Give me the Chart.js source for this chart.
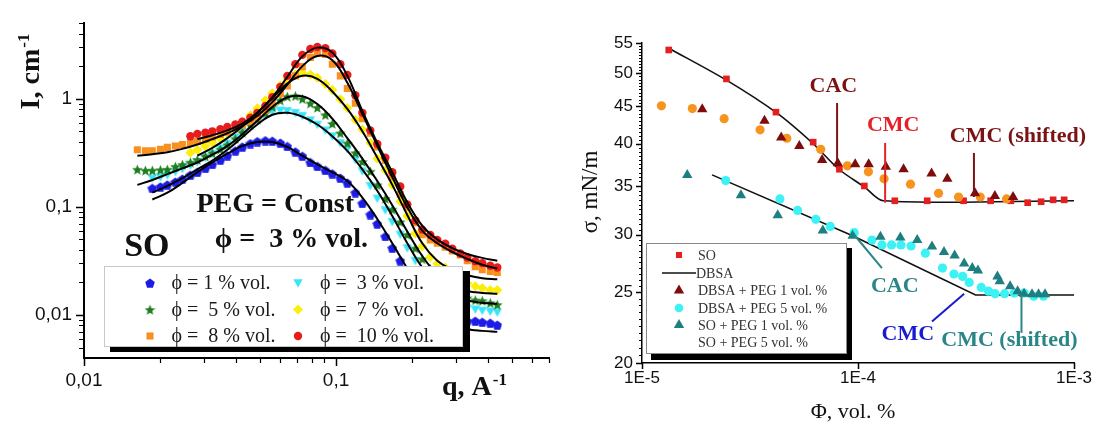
<!DOCTYPE html>
<html>
<head>
<meta charset="utf-8">
<script src="https://cdn.jsdelivr.net/npm/chart.js@4.4.0/dist/chart.umd.min.js"></script>
<style>
  html, body { margin: 0; padding: 0; background: #fff; }
  #wrap { position: relative; width: 1097px; height: 424px; overflow: hidden; }
  #left { position: absolute; left: 0; top: 0; width: 560px; height: 424px; }
  #right { position: absolute; left: 580px; top: 0; width: 517px; height: 424px; }
</style>
</head>
<body>
<div id="wrap">
  <div id="left"><canvas id="saxs"></canvas></div>
  <div id="right"><canvas id="tension"></canvas></div>
</div>
<script>
'use strict';

// ---------- left panel: SAXS, SO + PEG (const) ----------
const q = [0.01628, 0.01752, 0.01867, 0.02010, 0.02142, 0.02305, 0.02457, 0.02643, 0.02818, 0.03031,
  0.03231, 0.03476, 0.03705, 0.03986, 0.04249, 0.04572, 0.04874, 0.05243, 0.05589, 0.06013,
  0.0641, 0.06897, 0.07351, 0.07909, 0.08431, 0.0907, 0.09667, 0.104, 0.1109, 0.1193,
  0.1272, 0.1368, 0.1458, 0.1569, 0.1672, 0.1799, 0.1918, 0.2064, 0.2199, 0.2366,
  0.2522, 0.2713, 0.2893, 0.3112, 0.3318, 0.3569, 0.3805, 0.4094, 0.4364];

const I1 = [null, null, 0.1489, 0.1536, 0.1602, 0.1704, 0.1814, 0.1971, 0.2097, 0.2279,
  0.2476, 0.2718, 0.2984, 0.3310, 0.3595, 0.3867, 0.4031, 0.4116, 0.4073, 0.3906,
  0.3633, 0.3242, 0.2953, 0.2581, 0.2375, 0.2186, 0.2032, 0.1852, 0.1669, 0.1356,
  0.1080, 0.0851, 0.0698, 0.0533, 0.0416, 0.0318, 0.0258, 0.0201, 0.0160, 0.0130,
  0.0110, 0.00994, 0.00934, 0.00896, 0.00877, 0.00877, 0.00859, 0.00842, 0.00808];
const I3 = [null, null, 0.1840, 0.1890, 0.1971, 0.2119, 0.2254, 0.2425, 0.2608, 0.2862,
  0.3110, 0.3486, 0.3867, 0.4425, 0.4960, 0.5735, 0.6428, 0.7057, 0.7588, 0.7828,
  0.7748, 0.7433, 0.6984, 0.6362, 0.5794, 0.5117, 0.4519, 0.3906, 0.3451, 0.2746,
  0.2141, 0.1569, 0.1198, 0.0934, 0.0728, 0.0556, 0.0416, 0.0318, 0.0247, 0.0193,
  0.0157, 0.0138, 0.0127, 0.0120, 0.0115, 0.0113, 0.0110, 0.0108, 0.0106];
const I5 = [0.2232, 0.2186, 0.2186, 0.2209, 0.2232, 0.2375, 0.2476, 0.2597, 0.2746, 0.2953,
  0.3155, 0.3429, 0.3763, 0.4289, 0.4909, 0.5758, 0.6496, 0.7433, 0.8506, 0.9734,
  1.057, 1.069, 1.004, 0.9147, 0.8331, 0.7130, 0.5916, 0.4838, 0.3906, 0.3176,
  0.2634, 0.2141, 0.1602, 0.1198, 0.0953, 0.0728, 0.0556, 0.0416, 0.0331, 0.0269,
  0.0219, 0.0185, 0.0167, 0.0154, 0.0144, 0.0138, 0.0136, 0.0130, 0.0125];
const I7 = [null, null, null, null, null, null, null, 0.3176, 0.3380, 0.3672,
  0.3948, 0.4306, 0.4759, 0.5391, 0.6103, 0.7057, 0.8193, 0.9734, 1.126, 1.329,
  1.536, 1.687, 1.740, 1.687, 1.569, 1.371, 1.210, 0.9938, 0.8245, 0.6428,
  0.5224, 0.3906, 0.2803, 0.2186, 0.1602, 0.1125, 0.0825, 0.0568, 0.0433, 0.0345,
  0.0298, 0.0275, 0.0247, 0.0219, 0.0197, 0.0185, 0.0178, 0.0170, 0.0170];
const I8 = [0.3380, 0.3310, 0.3310, 0.3415, 0.3558, 0.3672, 0.3788, 0.3932, 0.4031, 0.4245,
  0.4425, 0.4682, 0.4909, 0.5280, 0.5676, 0.6167, 0.6770, 0.7829, 0.9147, 1.109,
  1.315, 1.635, 1.991, 2.425, 2.662, 2.581, 2.097, 1.635, 1.249, 0.9147,
  0.6563, 0.4808, 0.3595, 0.2690, 0.1890, 0.1302, 0.0994, 0.0713, 0.0555, 0.0494,
  0.0461, 0.0424, 0.0391, 0.0360, 0.0318, 0.0280, 0.0263, 0.0253, 0.0247];
const I10 = [null, null, null, null, null, null, null, 0.4519, 0.4750, 0.4859,
  0.5012, 0.5246, 0.5502, 0.5794, 0.6167, 0.6700, 0.7433, 0.8595, 1.036, 1.288,
  1.635, 2.097, 2.555, 2.893, 3.027, 2.953, 2.634, 2.097, 1.669, 1.080,
  0.7433, 0.5117, 0.3827, 0.2862, 0.2097, 0.1546, 0.1057, 0.0751, 0.0617, 0.0550,
  0.0496, 0.0457, 0.0411, 0.0371, 0.0341, 0.0315, 0.0302, 0.0286, 0.0275];

// model fits (black curves)
const qFit = [0.01628, 0.01867, 0.02142, 0.02457, 0.02818, 0.03231, 0.03705, 0.04249, 0.04874, 0.05589,
  0.0641, 0.07351, 0.08431, 0.09667, 0.1109, 0.1272, 0.1458, 0.1672, 0.1918, 0.2199,
  0.2522, 0.2893, 0.3318, 0.3805, 0.4364];
const fit1 = [null, 0.1173, 0.1356, 0.1669, 0.2097, 0.2581, 0.3110, 0.3672, 0.3990, 0.3990,
  0.3595, 0.2984, 0.2476, 0.2097, 0.1739, 0.1223, 0.0775, 0.0461, 0.0269, 0.0164,
  0.0108, 0.00842, 0.00743, 0.00713, 0.00698];
const fit3 = [null, 0.1356, 0.1569, 0.1852, 0.2232, 0.2690, 0.3380, 0.4425, 0.5794, 0.7130,
  0.7433, 0.6841, 0.5794, 0.4519, 0.3310, 0.2232, 0.1414, 0.0825, 0.0461, 0.0275,
  0.0189, 0.0150, 0.0136, 0.0130, 0.0127];
const fit5 = [0.1602, 0.1777, 0.2012, 0.2279, 0.2581, 0.3046, 0.3672, 0.4710, 0.6295, 0.8419,
  1.036, 1.057, 0.8960, 0.6563, 0.4334, 0.2803, 0.1739, 0.1036, 0.0592, 0.0352,
  0.0237, 0.0189, 0.0167, 0.0160, 0.0157];
const fit7 = [null, null, null, null, 0.2984, 0.3522, 0.4334, 0.5559, 0.7433, 1.015,
  1.385, 1.635, 1.536, 1.173, 0.8077, 0.5012, 0.2862, 0.1602, 0.0842, 0.0461,
  0.0318, 0.0263, 0.0233, 0.0219, 0.0214];
const fit8 = [0.2984, 0.3078, 0.3209, 0.3451, 0.3788, 0.4245, 0.4808, 0.5617, 0.6984, 0.9339,
  1.356, 2.012, 2.501, 2.279, 1.414, 0.7280, 0.3672, 0.1890, 0.0994, 0.0604,
  0.0461, 0.0383, 0.0331, 0.0292, 0.0269];
const fit10 = [null, null, null, null, 0.4245, 0.4613, 0.5117, 0.5916, 0.7433, 1.036,
  1.602, 2.475, 2.984, 2.690, 1.635, 0.7748, 0.3906, 0.2097, 0.1103, 0.0670,
  0.0501, 0.0416, 0.0367, 0.0338, 0.0318];

const saxsLabels = ['ϕ = 1 % vol.', 'ϕ =  3 % vol.', 'ϕ =  5 % vol.', 'ϕ =  7 % vol.', 'ϕ =  8 % vol.', 'ϕ =  10 % vol.'];
const qTicks = [0.01, 0.1];
const qMinor = [0.02, 0.03, 0.04, 0.05, 0.06, 0.07, 0.08, 0.09, 0.2, 0.3, 0.4, 0.5, 0.6, 0.7];
const iTicks = [0.01, 0.1, 1];
const iMinor = [0.005, 0.006, 0.007, 0.008, 0.009, 0.02, 0.03, 0.04, 0.05, 0.06, 0.07, 0.08, 0.09,
  0.2, 0.3, 0.4, 0.5, 0.6, 0.7, 0.8, 0.9, 2, 3, 4, 5];

// ---------- right panel: surface tension ----------
const phiSO = [1.33e-5, 2.46e-5, 4.17e-5, 6.2e-5, 8.2e-5, 1.07e-4, 1.48e-4, 2.09e-4, 3.08e-4, 4.11e-4, 5.1e-4, 6.1e-4, 7.04e-4, 8.0e-4, 9.0e-4];
const sigSO = [53.8, 49.1, 44.2, 40.2, 36.9, 35.0, 33.4, 33.4, 33.4, 33.4, 33.4, 33.2, 33.3, 33.5, 33.5];
const phiDbsaA = [1.33e-5, 2.46e-5, 4.22e-5, 6.2e-5, 8.15e-5, 1.07e-4, 1.31e-4, 1e-3];
const sigDbsaA = [54.1, 48.9, 44.05, 40.0, 36.9, 34.9, 33.4, 33.4];
const phiDbsaB = [2.11e-5, 9.44e-5, 3.5e-4, 1e-3];
const sigDbsaB = [36.25, 29.9, 24.8, 24.8];
const phiD1 = [1.90e-5, 3.69e-5, 4.41e-5, 5.35e-5, 6.82e-5, 8.06e-5, 9.7e-5, 1.12e-4, 1.345e-4, 1.625e-4, 2.19e-4, 2.59e-4, 3.48e-4, 4.30e-4, 5.22e-4];
const sigD1 = [44.6, 43.0, 40.8, 39.7, 38.0, 37.6, 37.5, 37.5, 37.2, 36.9, 36.4, 35.8, 34.2, 33.9, 33.8];
const phiD5 = [2.44e-5, 4.35e-5, 5.25e-5, 6.38e-5, 7.44e-5, 9.6e-5, 1.16e-4, 1.29e-4, 1.43e-4, 1.58e-4, 1.76e-4, 2.05e-4,
  2.46e-4, 2.78e-4, 3.05e-4, 3.27e-4, 3.72e-4, 4.02e-4, 4.31e-4, 4.77e-4, 5.29e-4, 5.87e-4, 6.51e-4, 7.22e-4];
const sigD5 = [35.6, 33.6, 32.4, 31.5, 30.8, 30.2, 29.5, 29.05, 29.05, 29.05, 28.95, 28.3,
  27.0, 26.5, 26.3, 25.8, 25.4, 25.1, 24.9, 24.9, 24.95, 24.95, 24.7, 24.7];
const phiS1 = [1.62e-5, 2.87e-5, 4.25e-5, 6.87e-5, 9.44e-5, 1.27e-4, 1.57e-4, 1.88e-4, 2.20e-4, 2.50e-4, 2.80e-4,
  3.10e-4, 3.38e-4, 3.59e-4, 4.42e-4, 4.53e-4, 5.06e-4, 5.48e-4, 5.87e-4, 6.39e-4, 6.85e-4, 7.34e-4];
const sigS1 = [36.25, 34.0, 31.9, 30.4, 29.9, 29.8, 29.75, 29.5, 28.9, 28.4, 28.1,
  27.4, 27.0, 26.8, 26.3, 25.9, 25.5, 25.1, 24.9, 24.85, 24.85, 24.85];
const phiS5 = [1.23e-5, 1.71e-5, 2.40e-5, 3.52e-5, 4.68e-5, 6.72e-5, 8.93e-5, 1.117e-4, 1.32e-4, 1.75e-4, 2.36e-4, 2.92e-4, 3.68e-4, 4.87e-4];
const sigS5 = [45.1, 44.7, 43.3, 41.8, 40.7, 39.3, 37.3, 36.6, 35.8, 35.2, 34.2, 33.8, 33.8, 33.6];

const tensionLabels = ['SO', 'DBSA', 'DBSA + PEG 1 vol. %', 'DBSA + PEG 5 vol. %', 'SO + PEG 1 vol. %', 'SO + PEG 5 vol. %'];
const phiTicks = [1e-5, 1e-4, 1e-3];
const sigTicks = [20, 25, 30, 35, 40, 45, 50, 55];

// annotations: [text, colour, phi, sigma] and arrow lines [colour, phi1, sig1, phi2, sig2]
const notes = [
  ['CAC', '#7a1414', 7.69e-5, 48.0],
  ['CMC', '#e4222a', 1.455e-4, 42.4],
  ['CMC (shifted)', '#7a1414', 5.5e-4, 40.9],
  ['CAC', '#2a8686', 1.48e-4, 25.5],
  ['CMC', '#1a1ad0', 1.70e-4, 21.9],
  ['CMC (shifted)', '#2a8686', 5.02e-4, 21.5]
];
const arrows = [
  ['#7a1414', 8.0e-5, 45.5, 8.0e-5, 38.0],
  ['#e4222a', 1.335e-4, 40.1, 1.335e-4, 33.2],
  ['#7a1414', 3.44e-4, 38.85, 3.44e-4, 33.8],
  ['#2a8686', 1.29e-4, 27.0, 9.6e-5, 30.0],
  ['#1a1ad0', 2.2e-4, 22.8, 3.1e-4, 24.9],
  ['#2a8686', 5.71e-4, 24.8, 5.71e-4, 22.0]
];

// ---------- helpers ----------
const SERIF = '"Liberation Serif", "Times New Roman", serif';
const SANS = '"Liberation Sans", Arial, sans-serif';
Chart.defaults.font.family = SANS;

function pts(xs, ys) {
  const out = [];
  xs.forEach((x, i) => { if (ys[i] !== null) out.push({ x: x, y: ys[i] }); });
  return out;
}

function shape(kind, color, size) {
  const c = document.createElement('canvas');
  c.width = size; c.height = size;
  const g = c.getContext('2d');
  const m = size / 2, r = size / 2;
  g.fillStyle = color;
  g.beginPath();
  if (kind === 'pentagon') {
    for (let i = 0; i < 5; i++) {
      const a = -Math.PI / 2 + i * 2 * Math.PI / 5;
      g.lineTo(m + r * Math.cos(a), m + 0.6 + r * Math.sin(a));
    }
  } else if (kind === 'star') {
    for (let i = 0; i < 10; i++) {
      const a = -Math.PI / 2 + i * Math.PI / 5;
      const rr = i % 2 ? r * 0.45 : r;
      g.lineTo(m + rr * Math.cos(a), m + 0.8 + rr * Math.sin(a));
    }
  } else {
    g.moveTo(0.3, size * 0.12);
    g.lineTo(size - 0.3, size * 0.12);
    g.lineTo(m, size * 0.95);
  }
  g.closePath();
  g.fill();
  return c;
}

function drawMarker(ctx, style, r, color, x, y) {
  ctx.save();
  ctx.fillStyle = color;
  if (style instanceof HTMLCanvasElement) {
    ctx.drawImage(style, x - style.width / 2, y - style.height / 2);
  } else {
    ctx.beginPath();
    if (style === 'circle') ctx.arc(x, y, r, 0, Math.PI * 2);
    else if (style === 'rect') { const h = r * Math.SQRT1_2; ctx.rect(x - h, y - h, 2 * h, 2 * h); }
    else if (style === 'rectRot') { ctx.moveTo(x, y - r); ctx.lineTo(x + r, y); ctx.lineTo(x, y + r); ctx.lineTo(x - r, y); }
    else if (style === 'triangle') { ctx.moveTo(x, y - r); ctx.lineTo(x + r * 0.866, y + r / 2); ctx.lineTo(x - r * 0.866, y + r / 2); }
    ctx.closePath();
    ctx.fill();
  }
  ctx.restore();
}

function tickMarks(ctx, scale, area, values, len, width) {
  ctx.save();
  ctx.strokeStyle = '#000';
  ctx.lineWidth = width;
  ctx.beginPath();
  values.forEach(v => {
    const p = Math.round(scale.getPixelForValue(v)) + 0.5;
    if (scale.isHorizontal()) { ctx.moveTo(p, area.bottom); ctx.lineTo(p, area.bottom + len); }
    else { ctx.moveTo(area.left, p); ctx.lineTo(area.left - len, p); }
  });
  ctx.stroke();
  ctx.restore();
}

function supText(ctx, main, sup, x, y, size) {
  ctx.font = 'bold ' + size + 'px ' + SERIF;
  ctx.fillText(main, x, y);
  const w = ctx.measureText(main).width;
  ctx.font = 'bold ' + Math.round(size * 0.6) + 'px ' + SERIF;
  ctx.fillText(sup, x + w + 1, y - size * 0.36);
  return w + ctx.measureText(sup).width + 1;
}

// ---------- left chart ----------
const cBlue = '#1c1ce6', cCyan = '#38e4fa', cGreen = '#1f7f1f', cYellow = '#fbee0a', cOrange = '#f7901e', cRed = '#e81c1c';
const mk = [
  { data: I1, label: saxsLabels[0], color: cBlue, style: shape('pentagon', cBlue, 10), r: 5, order: 6 },
  { data: I3, label: saxsLabels[1], color: cCyan, style: shape('tri', cCyan, 10), r: 5, order: 5 },
  { data: I5, label: saxsLabels[2], color: cGreen, style: shape('star', cGreen, 11), r: 5, order: 4 },
  { data: I7, label: saxsLabels[3], color: cYellow, style: 'rectRot', r: 5, order: 3 },
  { data: I8, label: saxsLabels[4], color: cOrange, style: 'rect', r: 5, order: 2 },
  { data: I10, label: saxsLabels[5], color: cRed, style: 'circle', r: 4.2, order: 1 }
];
const fits = [fit1, fit3, fit5, fit7, fit8, fit10];

const saxsSets = [];
fits.forEach(f => saxsSets.push({
  data: pts(qFit, f), showLine: true, pointRadius: 0, borderColor: '#000', borderWidth: 2,
  tension: 0.4, order: 0
}));
mk.forEach(m => saxsSets.push({
  label: m.label, data: pts(q, m.data), showLine: false, pointStyle: m.style, pointRadius: m.r,
  pointBackgroundColor: m.color, pointBorderWidth: 0, order: m.order
}));

const saxsDecor = {
  id: 'saxsDecor',
  afterDraw(chart) {
    const ctx = chart.ctx, xs = chart.scales.x, ys = chart.scales.y, a = chart.chartArea;
    tickMarks(ctx, xs, a, qTicks, 8, 1.5);
    tickMarks(ctx, xs, a, qMinor, 5, 1.2);
    tickMarks(ctx, ys, a, iTicks, 8, 1.5);
    tickMarks(ctx, ys, a, iMinor, 5, 1.2);

    // legend with shadow
    ctx.save();
    ctx.fillStyle = '#000';
    ctx.fillRect(110, 347, 360, 5);
    ctx.fillRect(463, 271, 7, 81);
    ctx.fillStyle = '#fff';
    ctx.fillRect(104, 266, 359, 81);
    ctx.strokeStyle = '#c8c8c8';
    ctx.lineWidth = 1;
    ctx.strokeRect(104.5, 266.5, 358, 80);
    ctx.fillStyle = '#1a1a1a';
    ctx.font = '20px ' + SERIF;
    ctx.textBaseline = 'middle';
    const rows = [283, 309.5, 336];
    const order = [[0, 2, 4], [1, 3, 5]];
    const cols = [[150, 171.5], [298, 320]];
    order.forEach((col, ci) => col.forEach((k, ri) => {
      drawMarker(ctx, mk[k].style, mk[k].r, mk[k].color, cols[ci][0], rows[ri]);
      ctx.fillStyle = '#1a1a1a';
      ctx.fillText(mk[k].label, cols[ci][1], rows[ri] + 1);
    }));

    // in-plot captions
    ctx.fillStyle = '#111';
    ctx.textAlign = 'center';
    ctx.font = 'bold 34px ' + SERIF;
    ctx.fillText('SO', xs.getPixelForValue(0.01775), ys.getPixelForValue(0.0425));
    ctx.font = 'bold 28px ' + SERIF;
    ctx.fillText('PEG = Const', xs.getPixelForValue(0.0574), ys.getPixelForValue(0.1057));
    ctx.fillText('ϕ =  3 % vol.', xs.getPixelForValue(0.0665), ys.getPixelForValue(0.0501));

    // axis titles
    ctx.textAlign = 'left';
    ctx.textBaseline = 'alphabetic';
    ctx.save();
    ctx.translate(29, 72);
    ctx.rotate(-Math.PI / 2);
    ctx.font = 'bold 28px ' + SERIF;
    const w1 = ctx.measureText('I, cm').width;
    ctx.font = 'bold 17px ' + SERIF;
    const w2 = ctx.measureText('-1').width;
    supText(ctx, 'I, cm', '-1', -(w1 + w2) / 2, 10, 28);
    ctx.restore();
    supText(ctx, 'q, A', '-1', 442, 395, 28);
    ctx.restore();
  }
};

new Chart(document.getElementById('saxs'), {
  type: 'scatter',
  data: { datasets: saxsSets },
  options: {
    responsive: true,
    maintainAspectRatio: false,
    animation: false,
    layout: { padding: { top: 14, right: 11, left: 0, bottom: 0 } },
    plugins: { legend: { display: false }, tooltip: { enabled: false } },
    scales: {
      x: {
        type: 'logarithmic', min: 0.01, max: 0.7,
        afterBuildTicks: s => { s.ticks = qTicks.map(v => ({ value: v })); },
        afterFit: s => { s.height = 66; },
        ticks: { callback: v => String(v).replace('.', ','), font: { size: 19 }, color: '#111', padding: 11, maxRotation: 0, autoSkip: false },
        grid: { display: false, drawTicks: false },
        border: { display: true, color: '#000', width: 2 }
      },
      y: {
        type: 'logarithmic', min: 0.004, max: 5,
        afterBuildTicks: s => { s.ticks = iTicks.map(v => ({ value: v })); },
        afterFit: s => { s.width = 84; },
        ticks: { callback: v => String(v).replace('.', ','), font: { size: 19 }, color: '#111', padding: 12, autoSkip: false },
        grid: { display: false, drawTicks: false },
        border: { display: true, color: '#000', width: 2 }
      }
    }
  },
  plugins: [saxsDecor]
});

// ---------- right chart ----------
const tRed = '#e41f1f', tDark = '#7f0c0c', tCyan = '#3cf2f4', tTeal = '#1f7f80', tOrange = '#f7941d';
const tensionSets = [
  { data: pts(phiDbsaA, sigDbsaA), showLine: true, pointRadius: 0, borderColor: '#111', borderWidth: 1.6, tension: 0.3, order: 9 },
  { data: pts(phiDbsaB, sigDbsaB), showLine: true, pointRadius: 0, borderColor: '#111', borderWidth: 1.6, order: 9 },
  { data: pts(phiSO, sigSO), pointStyle: 'rect', pointRadius: 4.7, pointBackgroundColor: tRed, pointBorderWidth: 0, order: 5 },
  { data: pts(phiS5, sigS5), pointStyle: 'circle', pointRadius: 4.6, pointBackgroundColor: tOrange, pointBorderWidth: 0, order: 4 },
  { data: pts(phiD5, sigD5), pointStyle: 'circle', pointRadius: 4.6, pointBackgroundColor: tCyan, pointBorderWidth: 0, order: 3 },
  { data: pts(phiD1, sigD1), pointStyle: 'triangle', pointRadius: 6, pointBackgroundColor: tDark, pointBorderWidth: 0, order: 2 },
  { data: pts(phiS1, sigS1), pointStyle: 'triangle', pointRadius: 6, pointBackgroundColor: tTeal, pointBorderWidth: 0, order: 1 }
];

const tensionDecor = {
  id: 'tensionDecor',
  afterDraw(chart) {
    const ctx = chart.ctx, xs = chart.scales.x, ys = chart.scales.y, a = chart.chartArea;
    tickMarks(ctx, xs, a, phiTicks, 6, 1.5);
    const minor = [];
    for (let v = 20.5; v < 55; v += 0.5) if (v % 5 !== 0) minor.push(v);
    tickMarks(ctx, ys, a, minor, 3, 1);
    tickMarks(ctx, ys, a, sigTicks, 6, 1.5);

    // arrows and captions
    ctx.save();
    ctx.lineWidth = 2;
    arrows.forEach(l => {
      ctx.strokeStyle = l[0];
      ctx.beginPath();
      ctx.moveTo(xs.getPixelForValue(l[1]), ys.getPixelForValue(l[2]));
      ctx.lineTo(xs.getPixelForValue(l[3]), ys.getPixelForValue(l[4]));
      ctx.stroke();
    });
    ctx.font = 'bold 22px ' + SERIF;
    ctx.textAlign = 'center';
    ctx.textBaseline = 'middle';
    notes.forEach(n => {
      ctx.fillStyle = n[1];
      ctx.fillText(n[0], xs.getPixelForValue(n[2]), ys.getPixelForValue(n[3]));
    });

    // legend with shadow
    ctx.fillStyle = '#000';
    ctx.fillRect(71, 354, 201, 6);
    ctx.fillRect(267, 248, 5, 112);
    ctx.fillStyle = '#fff';
    ctx.fillRect(66, 243, 201, 111);
    ctx.strokeStyle = '#8a8a8a';
    ctx.lineWidth = 1;
    ctx.strokeRect(66.5, 243.5, 200, 110);
    const rowY = [255, 273, 290.5, 308, 325, 342.5];
    const marks = [['rect', 4.3, tRed], null, ['triangle', 6, tDark], ['circle', 4.3, tCyan], ['triangle', 6, tTeal], null];
    ctx.font = '14px ' + SERIF;
    ctx.textAlign = 'left';
    tensionLabels.forEach((t, i) => {
      if (marks[i]) drawMarker(ctx, marks[i][0], marks[i][1], marks[i][2], 99, rowY[i]);
      ctx.fillStyle = '#333';
      ctx.fillText(t, i === 1 ? 116 : 118, rowY[i] + 1);
    });
    ctx.strokeStyle = '#111';
    ctx.lineWidth = 1.6;
    ctx.beginPath();
    ctx.moveTo(82, 273);
    ctx.lineTo(116, 273);
    ctx.stroke();

    // axis titles
    ctx.fillStyle = '#111';
    ctx.textAlign = 'center';
    ctx.font = '22px ' + SERIF;
    ctx.fillText('Φ, vol. %', 273, 412);
    ctx.translate(11, 192);
    ctx.rotate(-Math.PI / 2);
    ctx.font = '23px ' + SERIF;
    ctx.fillText('σ, mN/m', 0, 0);
    ctx.restore();
  }
};

new Chart(document.getElementById('tension'), {
  type: 'scatter',
  data: { datasets: tensionSets },
  options: {
    responsive: true,
    maintainAspectRatio: false,
    animation: false,
    layout: { padding: { top: 43, right: 22, left: 0, bottom: 0 } },
    plugins: { legend: { display: false }, tooltip: { enabled: false } },
    scales: {
      x: {
        type: 'logarithmic', min: 1e-5, max: 1e-3,
        afterBuildTicks: s => { s.ticks = phiTicks.map(v => ({ value: v })); },
        afterFit: s => { s.height = 61; },
        ticks: { callback: v => '1E' + Math.round(Math.log10(v)), font: { size: 17 }, color: '#111', padding: 5, maxRotation: 0, autoSkip: false },
        grid: { display: false, drawTicks: false },
        border: { display: true, color: '#000', width: 1.5 }
      },
      y: {
        type: 'logarithmic', min: 20, max: 55,
        afterBuildTicks: s => { s.ticks = sigTicks.map(v => ({ value: v })); },
        afterFit: s => { s.width = 62; },
        ticks: { callback: v => String(v), font: { size: 17 }, color: '#111', padding: 9, autoSkip: false },
        grid: { display: false, drawTicks: false },
        border: { display: true, color: '#000', width: 1.5 }
      }
    }
  },
  plugins: [tensionDecor]
});
</script>
</body>
</html>
